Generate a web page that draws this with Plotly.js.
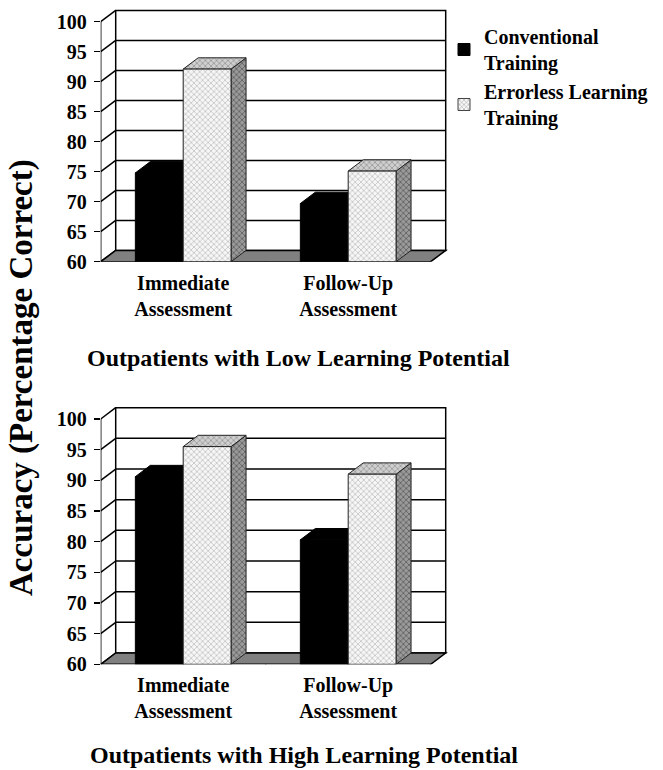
<!DOCTYPE html>
<html>
<head>
<meta charset="utf-8">
<script src="https://cdn.plot.ly/plotly-3.0.1.min.js"></script>
<style>html,body{margin:0;padding:0;background:#fff;}#chart{width:663px;height:770px;}</style>
</head>
<body>
<div id="chart"></div>
<script>
// ---- data ----
const categories = ['Immediate<br>Assessment', 'Follow-Up<br>Assessment'];
const seriesNames = ['Conventional<br>Training', 'Errorless Learning<br>Training'];
const lowConventional = [74.8, 69.7];
const lowErrorless = [92.1, 75.1];
const highConventional = [90.6, 80.3];
const highErrorless = [95.5, 91.0];
const yTicks = [60, 65, 70, 75, 80, 85, 90, 95, 100];
const panelTitles = ['Outpatients with Low Learning Potential', 'Outpatients with High Learning Potential'];
const yTitle = 'Accuracy (Percentage Correct)';

// ---- style / geometry ----
const W = 663, H = 770;
const FONT = 'Liberation Serif';
const DX = 15 / 165;          // depth offset in x units
const BARW = 0.29;            // bar width in category units
const X0 = -0.5, X1 = 1.5, YB = 60, YT = 100;

const convStyle = {
  front: {fillcolor: '#000'}, top: {fillcolor: '#000'}, side: {fillcolor: '#000'}, line: '#000'
};
const errStyle = {
  front: {fillcolor: '#ececec', fillpattern: {shape: 'x', bgcolor: '#f6f6f6', fgcolor: '#a8a8a8', size: 4, solidity: 0.25}},
  top: {fillcolor: '#bdbdbd', fillpattern: {shape: 'x', bgcolor: '#cfcfcf', fgcolor: '#8a8a8a', size: 4, solidity: 0.3}},
  side: {fillcolor: '#8a8a8a', fillpattern: {shape: 'x', bgcolor: '#9a9a9a', fgcolor: '#5a5a5a', size: 4, solidity: 0.35}},
  line: '#222'
};

function poly(xs, ys, face, lineColor, xa, ya) {
  const t = {type: 'scatter', mode: 'lines', x: xs.concat([xs[0]]), y: ys.concat([ys[0]]),
    fill: 'toself', fillcolor: face.fillcolor, line: {color: lineColor, width: 1},
    xaxis: xa, yaxis: ya, showlegend: false, hoverinfo: 'skip'};
  if (face.fillpattern) t.fillpattern = face.fillpattern;
  return t;
}

function bar3d(x0, x1, v, style, xa, ya, dy) {
  return [
    poly([x1, x1 + DX, x1 + DX, x1], [YB, YB + dy, v + dy, v], style.side, style.line, xa, ya),
    poly([x0, x1, x1 + DX, x0 + DX], [v, v, v + dy, v + dy], style.top, style.line, xa, ya),
    poly([x0, x1, x1, x0], [YB, YB, v, v], style.front, style.line, xa, ya)
  ];
}

function panel(xa, ya, conv, err, dy) {
  const xr = xa, yr = ya;
  const shapes = [];
  const ln = {color: '#000', width: 1.5};
  // back wall
  shapes.push({type: 'path', xref: xr, yref: yr, layer: 'below',
    path: `M${X0 + DX},${YB + dy} L${X1 + DX},${YB + dy} L${X1 + DX},${YT + dy} L${X0 + DX},${YT + dy} Z`,
    fillcolor: '#fff', line: ln});
  // gridlines on back wall + side wall diagonals
  yTicks.forEach(v => {
    if (v > YB && v < YT) {
      shapes.push({type: 'line', xref: xr, yref: yr, layer: 'below',
        x0: X0 + DX, x1: X1 + DX, y0: v + dy, y1: v + dy, line: ln});
    }
    shapes.push({type: 'line', xref: xr, yref: yr, layer: 'below',
      x0: X0, x1: X0 + DX, y0: v, y1: v + dy, line: ln});
  });
  // floor
  shapes.push({type: 'path', xref: xr, yref: yr, layer: 'below',
    path: `M${X0},${YB} L${X1},${YB} L${X1 + DX},${YB + dy} L${X0 + DX},${YB + dy} Z`,
    fillcolor: '#808080', line: ln});
  // front vertical axis line
  shapes.push({type: 'line', xref: xr, yref: yr, layer: 'above',
    x0: X0, x1: X0, y0: YB, y1: YT, line: ln});
  // category boundary ticks
  [X0, 0.5, X1].forEach(x => {
    shapes.push({type: 'line', xref: xr, yref: yr, layer: 'above', ysizemode: 'pixel', yanchor: YB,
      x0: x, x1: x, y0: 0, y1: -6, line: ln});
  });
  const traces = [];
  categories.forEach((c, i) => {
    traces.push(...bar3d(i - BARW, i, conv[i], convStyle, xa, ya, dy));
    traces.push(...bar3d(i, i + BARW, err[i], errStyle, xa, ya, dy));
  });
  return {traces, shapes};
}

// pixel layout
const topY60 = 261.7, topY100 = 21.7;
const botY60 = 664.3, botY100 = 419.0;
const plotL = 100.7, pxPerCat = 165;
const yMax = 102.5, xMax = 1.62;
const topScale = (topY60 - topY100) / 40, botScale = (botY60 - botY100) / 40;
const dyTop = 11.3 / topScale, dyBot = 11.3 / botScale;

const p1 = panel('x', 'y', lowConventional, lowErrorless, dyTop);
const p2 = panel('x2', 'y2', highConventional, highErrorless, dyBot);

const legendTraces = [
  {type: 'bar', x: [null], y: [null], name: seriesNames[0], marker: {color: '#000', line: {color: '#000', width: 1}}, xaxis: 'x', yaxis: 'y', hoverinfo: 'skip'},
  {type: 'bar', x: [null], y: [null], name: seriesNames[1], marker: {color: '#ececec', line: {color: '#444', width: 1},
    pattern: {shape: 'x', bgcolor: '#f6f6f6', fgcolor: '#a0a0a0', size: 4, solidity: 0.3}}, xaxis: 'x', yaxis: 'y', hoverinfo: 'skip'}
];

const xDomain = [plotL / W, (plotL + (xMax - X0) * pxPerCat) / W];
function yDom(y60, scale) { return [1 - y60 / H, 1 - (y60 - (yMax - 60) * scale) / H]; }

const tickFont = {family: FONT, size: 20, color: '#000', weight: 'bold'};
const yTickFont = {family: FONT, size: 20, color: '#000', weight: 'bold'};

function xAxis(anchor) {
  return {domain: xDomain, range: [X0, xMax], anchor: anchor, tickmode: 'array',
    tickvals: categories.map((c, i) => i), ticktext: categories, ticks: '', showline: false,
    showgrid: false, zeroline: false, tickfont: tickFont, ticklabelstandoff: 7, fixedrange: true};
}
function yAxis(anchor, dom) {
  return {domain: dom, range: [60, yMax], anchor: anchor, tickmode: 'array', tickvals: yTicks,
    ticks: 'outside', ticklen: 6, tickwidth: 1.5, tickcolor: '#000', showline: false, showgrid: false,
    zeroline: false, tickfont: yTickFont, ticklabelstandoff: 3, fixedrange: true};
}

const layout = {
  width: W, height: H, margin: {l: 0, r: 0, t: 0, b: 0},
  paper_bgcolor: '#fff', plot_bgcolor: 'rgba(0,0,0,0)',
  showlegend: true,
  legend: {x: 444 / W, xanchor: 'left', y: 1 - 17 / H, yanchor: 'top', bgcolor: 'rgba(0,0,0,0)',
    font: {family: FONT, size: 20, color: '#000', weight: 'bold'}, tracegroupgap: 0, itemclick: false},
  xaxis: xAxis('y'), yaxis: yAxis('x', yDom(topY60, topScale)),
  xaxis2: xAxis('y2'), yaxis2: yAxis('x2', yDom(botY60, botScale)),
  shapes: p1.shapes.concat(p2.shapes),
  annotations: [
    {text: yTitle, xref: 'paper', yref: 'paper', x: 21 / W, y: 1 - 378 / H, xanchor: 'center', yanchor: 'middle',
      textangle: -90, showarrow: false, font: {family: FONT, size: 33, color: '#000', weight: 'bold'}},
    {text: panelTitles[0], xref: 'paper', yref: 'paper', x: 298.5 / W, y: 1 - 358 / H, xanchor: 'center', yanchor: 'middle',
      showarrow: false, font: {family: FONT, size: 24, color: '#000', weight: 'bold'}},
    {text: panelTitles[1], xref: 'paper', yref: 'paper', x: 304 / W, y: 1 - 755 / H, xanchor: 'center', yanchor: 'middle',
      showarrow: false, font: {family: FONT, size: 24, color: '#000', weight: 'bold'}}
  ]
};

Plotly.newPlot('chart', legendTraces.concat(p1.traces, p2.traces), layout, {staticPlot: true, displayModeBar: false});
</script>
</body>
</html>
